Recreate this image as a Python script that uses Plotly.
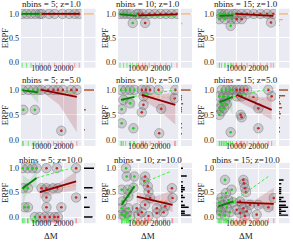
import numpy as np
import plotly.graph_objects as go

titles = ["nbins = 5; z=1.0", "nbins = 10; z=1.0", "nbins = 15; z=1.0",
          "nbins = 5; z=5.0", "nbins = 10; z=5.0", "nbins = 15; z=5.0",
          "nbins = 5; z=10.0", "nbins = 10; z=10.0", "nbins = 15; z=10.0"]
x_ticks = [10000, 20000]
x_tick_labels = ["10000", "20000"]
y_ticks = [0.0, 0.5, 1.0]
y_tick_labels = ["0.0", "0.5", "1.0"]

# ---- points (ΔM, ERPF) per panel: green = low ΔM group, red = high ΔM group
green_dm = [
    [1500, 3500, 5500, 7500, 9300],
    [1900, 3500, 5000, 6500, 7600, 9400],
    [2500, 3500, 5000, 6500, 8800, 2500, 5050, 8050, 7600],
    [1740, 4250, 6460, 8670, 2030, 7200],
    [2350, 4450, 6400, 8350, 3400, 6400, 2650, 2650, 7900],
    [3550, 5500, 7300, 8500, 2500, 4300, 6550, 5050, 3550, 5800, 2800, 4600, 3550, 2500, 7600],
    [1740, 3950, 6170, 7940, 2000, 4100, 2700, 4100, 7200],
    [4600, 4900, 2650, 5350, 5650, 2950, 2650, 5650, 2650, 3850, 4900, 6400, 7900, 8350],
    [5050, 8050, 5500, 3550, 6550, 2500, 4300, 2050, 5800, 3100, 7300, 2500, 5050, 8800],
]
green_erpf = [
    [1, 1, 1, 1, 1],
    [1, 1, 1, 1, 0.81, 1],
    [1, 1, 1, 1, 1, 0.89, 0.89, 0.89, 0.75],
    [1, 1, 1, 1, 0.6, 0.6],
    [1, 1, 1, 1, 0.8, 0.73, 0.61, 0.33, 0.23],
    [1, 1, 1, 1, 0.87, 0.87, 0.87, 0.77, 0.71, 0.71, 0.63, 0.63, 0.57, 0.5, 0.15],
    [1, 1, 1, 1, 0.59, 0.59, 0.2, 0.2, 0.0],
    [1.0, 0.83, 0.56, 0.56, 0.42, 0.32, 0.18, 0.18, 0.05, 0.03, 0.08, 0.02, 0.6, 0.83],
    [0.76, 0.56, 0.49, 0.4, 0.35, 0.3, 0.25, 0.2, 0.2, 0.12, 0.1, 0.05, 0.03, 0.3],
]
red_dm = [
    [10300, 13500, 16000, 19500, 22500, 25000, 27000],
    [10150, 12000, 13150, 15000, 17500, 20000, 22500, 25000, 27400],
    [10000, 12500, 15000, 18000, 21000, 24000, 26800, 10300, 12550, 25750],
    [10150, 13100, 15500, 17500, 19700, 23400, 25900, 19000],
    [11650, 13450, 15400, 19150, 26650, 12400, 12400, 11650, 20350, 19450, 26350],
    [10300, 11800, 13600, 15000, 24550, 10300, 12550, 17800, 26050, 20050, 12100, 12550, 20050],
    [12360, 17000, 25600, 10150, 12360, 15300, 17500, 12360, 25600, 12360, 19000, 9400, 11600, 13800, 16000, 17500],
    [13150, 12850, 14350, 14650, 25150, 25450, 15400, 9400, 13150, 18400, 22150, 10150, 11650, 14650, 18400, 21400],
    [13300, 13600, 14050, 14500, 27000, 11800, 13300, 14800, 20050, 24550, 10300, 16300, 19300, 11800, 14050],
]
red_erpf = [
    [1, 1, 1, 1, 1, 1, 1],
    [1, 1, 0.81, 1, 1, 1, 1, 1, 1],
    [1, 1, 1, 1, 1, 1, 1, 0.89, 0.89, 0.82],
    [1, 1, 1, 1, 1, 1, 1, 0.18],
    [1, 1, 1, 1, 1, 0.87, 0.7, 0.55, 0.62, 0.13, 0.83],
    [1, 1, 1, 1, 1, 0.87, 0.87, 0.85, 0.87, 0.63, 0.5, 0.45, 0.23],
    [1, 1, 1, 0.59, 0.59, 0.59, 0.59, 0.4, 0.4, 0.2, 0.2, 0.0, 0.0, 0.0, 0.0, 0.0],
    [0.83, 0.73, 0.63, 0.52, 0.59, 0.39, 0.39, 0.18, 0.25, 0.18, 0.22, 0.05, 0.1, 0.02, 0.08, 0.1],
    [0.76, 0.69, 0.59, 0.51, 0.39, 0.32, 0.18, 0.12, 0.25, 0.2, 0.15, 0.25, 0.05, 0.08, 0.02],
]

# ---- fitted trend values (ERPF at group start / end) and confidence bands (start, mid, end)
green_fit = [[1.0, 1.0], [0.99, 0.96], [0.96, 0.97], [0.99, 0.95], [0.8, 0.86],
             [0.75, 0.86], [0.59, 0.8], [0.25, 0.63], [0.22, 0.32]]
green_band_lo = [[0.99, 0.99, 0.99], [0.95, 0.93, 0.88], [0.9, 0.93, 0.9], [0.95, 0.9, 0.72],
                 [0.7, 0.75, 0.6], [0.62, 0.75, 0.5], [0.25, 0.63, 0.59], [0.1, 0.35, 0.45],
                 [0.12, 0.22, 0.2]]
green_band_hi = [[1.01, 1.01, 1.01], [1.03, 1.0, 1.02], [1.0, 0.99, 1.02], [1.02, 1.0, 1.0],
                 [0.88, 0.9, 1.0], [0.88, 0.9, 1.0], [0.86, 0.76, 0.97], [0.4, 0.5, 0.82],
                 [0.32, 0.32, 0.45]]
red_fit = [[1.0, 1.0], [0.97, 0.99], [1.0, 0.96], [1.0, 0.86], [0.9, 0.7],
           [0.9, 0.6], [0.51, 0.73], [0.42, 0.25], [0.3, 0.27]]
red_band_lo = [[0.99, 0.99, 0.99], [0.9, 0.95, 0.95], [0.93, 0.94, 0.9], [0.97, 0.7, 0.15],
               [0.8, 0.6, 0.3], [0.78, 0.6, 0.4], [0.38, 0.5, 0.55], [0.3, 0.25, 0.1],
               [0.2, 0.2, 0.12]]
red_band_hi = [[1.01, 1.01, 1.01], [1.02, 1.01, 1.02], [1.02, 1.0, 1.01], [1.02, 1.0, 1.0],
               [0.97, 0.9, 0.95], [0.98, 0.85, 0.85], [0.65, 0.68, 0.93], [0.52, 0.42, 0.55],
               [0.38, 0.35, 0.6]]
# dashed projections: [x_start, x_end], [y_start, y_end]
green_dash_dm = [[9300, 27000], [9400, 27400], [8800, 26800], [8670, 25900], [8350, 26650],
                 [8500, 24550], [7940, 23860], [8350, 24400], [8800, 24550]]
green_dash_erpf = [[1.0, 1.0], [0.96, 0.95], [0.97, 0.97], [0.97, 0.96], [0.87, 1.0],
                   [0.86, 1.02], [0.8, 1.01], [0.63, 0.93], [0.32, 0.83]]
salmon_dash_dm = [[10300, 27000], [10150, 27400], [10000, 26800], [10150, 25900], [11650, 26650],
                  [10300, 26800], [15300, 25900], [17650, 26650], [10300, 27000]]
salmon_dash_erpf = [[1.0, 1.0], [0.97, 0.98], [0.99, 0.97], [0.98, 0.9], [0.88, 0.84],
                    [0.87, 0.78], [0.56, 0.66], [0.32, 0.36], [0.28, 0.3]]

hist_colors = ["#f7ae5e", "#a6552a", "#000000"]

# ---- layout geometry
W, H = 293, 241
col_main = [(21, 81.5), (118, 178.3), (216, 276)]
col_hist = [(84, 95.5), (181, 192), (279, 289.5)]
row_px = [(8.7, 67.8), (84.5, 146), (162.9, 223.2)]
ylab_px = [5, 105, 201]
title_py = [4, 80, 160]
XR = [1000, 28000]
YR = [-0.125, 1.108]
FONT = "Liberation Serif"

fig = go.Figure()
layout = dict(width=W, height=H, margin=dict(l=0, r=0, t=0, b=0),
              paper_bgcolor="white", plot_bgcolor="#EAEAF2", showlegend=False,
              hovermode=False, dragmode=False,
              bargap=0.25, font=dict(family=FONT, size=8, color="#222"))
annotations = []

for i in range(9):
    r, c = divmod(i, 3)
    xm, ym = f"x{2*i+1}", f"y{2*i+1}"
    xh, yh = f"x{2*i+2}", f"y{2*i+2}"
    ydom = [1 - row_px[r][1] / H, 1 - row_px[r][0] / H]

    gx, gy = np.array(green_dm[i]), np.array(green_erpf[i])
    rx, ry = np.array(red_dm[i]), np.array(red_erpf[i])

    # confidence bands
    for xs, lo, hi, col in [(gx, green_band_lo[i], green_band_hi[i], "rgba(40,170,40,0.16)"),
                            (rx, red_band_lo[i], red_band_hi[i], "rgba(160,30,40,0.18)")]:
        bx = [xs.min(), (xs.min() + xs.max()) / 2, xs.max()]
        fig.add_trace(go.Scatter(x=bx + bx[::-1], y=list(hi) + list(lo)[::-1], fill="toself",
                                 fillcolor=col, line=dict(width=0), mode="lines",
                                 hoverinfo="skip", xaxis=xm, yaxis=ym))
    # points: gray halo + colored centre
    for xs, ys, dot in [(gx, gy, "#22cc22"), (rx, ry, "#c8262c")]:
        fig.add_trace(go.Scatter(x=xs, y=ys, mode="markers",
                                 marker=dict(size=9.5, color="rgba(125,125,125,0.3)",
                                             line=dict(width=0.8, color="rgba(90,90,90,0.45)")),
                                 xaxis=xm, yaxis=ym))
        fig.add_trace(go.Scatter(x=xs, y=ys, mode="markers",
                                 marker=dict(size=2.6, color=dot), xaxis=xm, yaxis=ym))
    # dashed projections
    fig.add_trace(go.Scatter(x=green_dash_dm[i], y=green_dash_erpf[i], mode="lines",
                             line=dict(color="#3cf03c", width=1, dash="3px,2px"),
                             xaxis=xm, yaxis=ym))
    fig.add_trace(go.Scatter(x=salmon_dash_dm[i], y=salmon_dash_erpf[i], mode="lines",
                             line=dict(color="#ffa07a", width=1, dash="3px,2px"),
                             xaxis=xm, yaxis=ym))
    # fit lines
    fig.add_trace(go.Scatter(x=[gx.min(), gx.max()], y=green_fit[i], mode="lines",
                             line=dict(color="#0a7d0a", width=1.8), xaxis=xm, yaxis=ym))
    fig.add_trace(go.Scatter(x=[rx.min(), rx.max()], y=red_fit[i], mode="lines",
                             line=dict(color="#8b0000", width=1.8), xaxis=xm, yaxis=ym))
    # rug
    for xs, col in [(gx, "rgba(70,235,70,0.75)"), (rx, "rgba(255,120,120,0.7)")]:
        fig.add_trace(go.Scatter(x=xs, y=np.full(len(xs), -0.095), mode="markers",
                                 marker=dict(symbol="line-ns", size=5,
                                             line=dict(width=1, color=col)),
                                 xaxis=xm, yaxis=ym))
    # marginal histogram
    ally = np.concatenate([gy, ry])
    counts, _ = np.histogram(ally, bins=np.arange(-0.02, 1.05, 0.04))
    fig.add_trace(go.Histogram(y=ally, orientation="h",
                               ybins=dict(start=-0.02, end=1.06, size=0.04),
                               marker=dict(color=hist_colors[r]), xaxis=xh, yaxis=yh))

    n1, n2 = 2 * i + 1, 2 * i + 2
    layout[f"xaxis{n1}"] = dict(domain=[col_main[c][0] / W, col_main[c][1] / W], anchor=ym,
                                range=XR, tickvals=x_ticks, ticktext=x_tick_labels,
                                showgrid=True, gridcolor="white", gridwidth=1, zeroline=False,
                                showline=False, ticks="", ticklen=0, tickfont=dict(size=8),
                                ticklabelstandoff=-6)
    layout[f"yaxis{n1}"] = dict(domain=ydom, anchor=xm, range=YR, tickvals=y_ticks,
                                ticktext=y_tick_labels, showgrid=True, gridcolor="white",
                                gridwidth=1, zeroline=False, showline=False, ticks="",
                                ticklen=0, tickfont=dict(size=8), ticklabelstandoff=1)
    layout[f"xaxis{n2}"] = dict(domain=[col_hist[c][0] / W, col_hist[c][1] / W], anchor=yh,
                                range=[0, counts.max() * 1.15], showticklabels=False,
                                showgrid=False, zeroline=False, ticks="")
    layout[f"yaxis{n2}"] = dict(domain=ydom, anchor=xh, range=YR, tickvals=y_ticks,
                                showticklabels=False, showgrid=True, gridcolor="white",
                                zeroline=False, ticks="")

    cx = (col_main[c][0] + col_main[c][1]) / 2 / W
    annotations.append(dict(text=titles[i], x=cx, y=1 - title_py[r] / H, xref="paper",
                            yref="paper", showarrow=False, font=dict(size=9, color="#222"),
                            xanchor="center", yanchor="middle"))
    annotations.append(dict(text="ERPF", x=ylab_px[c] / W,
                            y=1 - (row_px[r][0] + row_px[r][1]) / 2 / H, xref="paper",
                            yref="paper", showarrow=False, textangle=-90,
                            font=dict(size=8.5, color="#222"),
                            xanchor="center", yanchor="middle"))
    if r == 2:
        annotations.append(dict(text="ΔM", x=cx, y=1 - 235.5 / H, xref="paper",
                                yref="paper", showarrow=False, font=dict(size=9, color="#222"),
                                xanchor="center", yanchor="middle", borderpad=0))

layout["annotations"] = annotations
fig.update_layout(**layout)
fig.write_html("out.html", config={"displayModeBar": False, "staticPlot": True},
               post_script="document.body.style.margin='0';document.body.style.overflow='hidden';")
